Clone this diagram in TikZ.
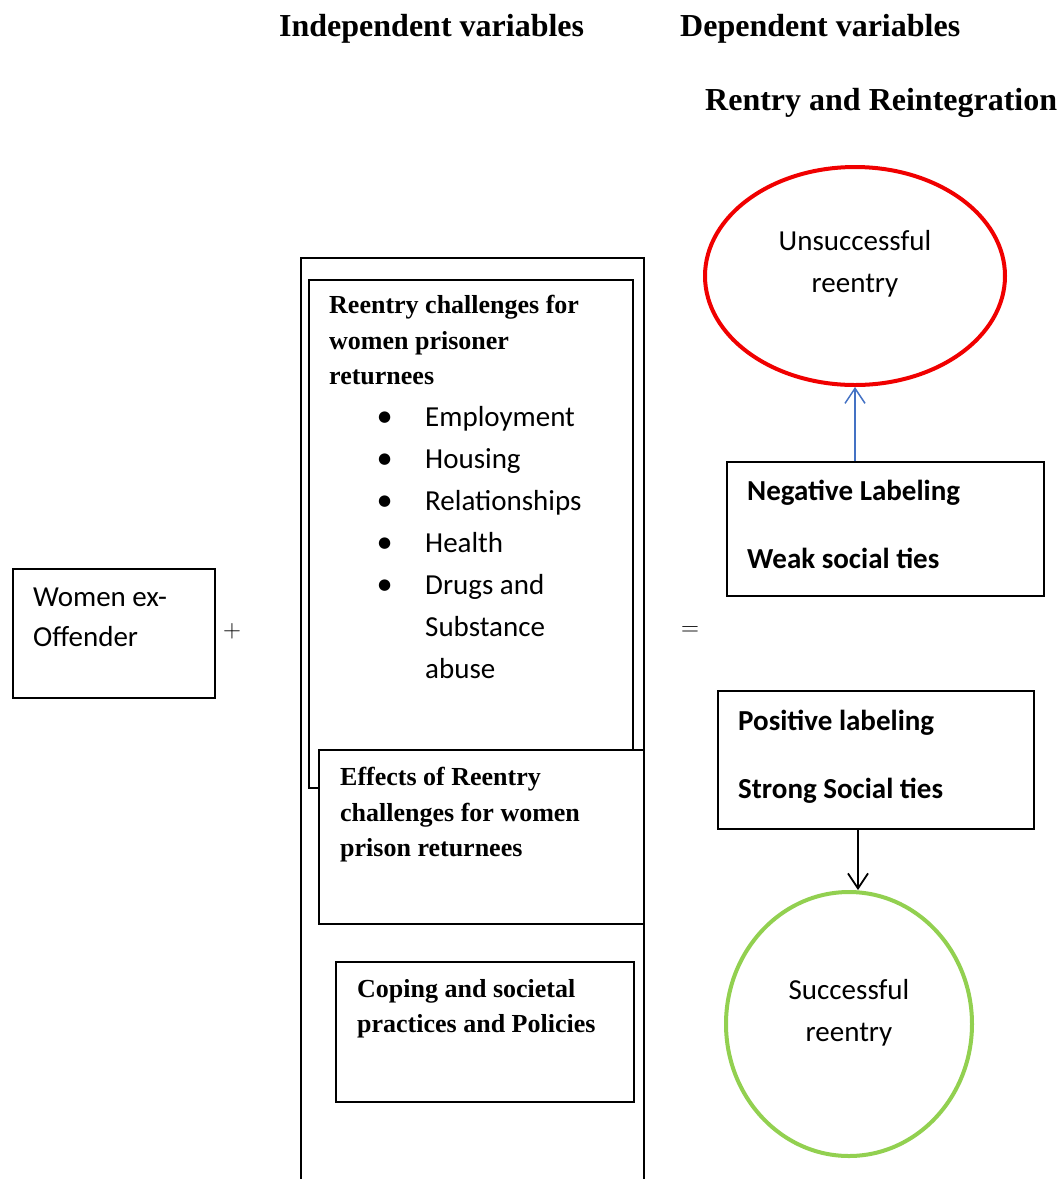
\documentclass[tikz,border=0pt]{standalone}
\usepackage{fontspec}
\setmainfont{Liberation Serif}
\newfontfamily\calibri{Carlito}
\newfontfamily\dejavu{DejaVu Sans}
\usepackage{tikz}
\usetikzlibrary{positioning}
\usetikzlibrary{shapes.geometric}
\usetikzlibrary{arrows.meta}

\definecolor{lblue}{RGB}{68,114,196}
\definecolor{lred}{RGB}{240,0,0}
\definecolor{lgreen}{RGB}{146,208,80}

\newcommand{\dotitem}{\makebox[47pt][l]{\raisebox{5pt}{\dejavu\fontsize{15}{20}\selectfont ●}}}

\begin{document}
\begin{tikzpicture}[x=1pt, y=-1pt,
    box/.style={draw, line width=1.6pt, fill=white, anchor=north west, inner sep=0pt},
    head/.style={font=\fontsize{32}{38}\selectfont\bfseries, anchor=west, inner sep=0pt},
    title/.style={font=\fontsize{26}{35.5}\selectfont\bfseries, align=left, anchor=north west, inner sep=0pt},
    body/.style={font=\calibri\fontsize{29}{42}\selectfont, align=left, inner sep=0pt},
    bodybf/.style={font=\calibri\fontsize{29}{68}\selectfont\bfseries, align=left, anchor=north west, inner sep=0pt},
    oval/.style={ellipse, draw, line width=4pt, inner sep=0pt},
    barb/.style={-{Straight Barb[length=15pt, width=20pt]}}
]
\useasboundingbox (0,0) rectangle (1057,1179);

\node[head] (indep) at (279,29) {Independent variables};
\node[head] (dep) at (680,29) {Dependent variables};
\node[head] (rentry) at (705,103) {Rentry and Reintegration};

\node[box, minimum width=202pt, minimum height=129pt] (woman) at (12,568) {};
\node[body, font=\calibri\fontsize{29}{40}\selectfont, anchor=north west] (womantxt) at (33,588) {Women ex-\\Offender};
\node[font=\fontsize{26}{30}\selectfont, inner sep=0pt] (plus) at (232,631) {$+$};

\node[box, fill=none, minimum width=343pt, minimum height=950pt] (outer) at (300,257) {};
\node[box, minimum width=324pt, minimum height=508pt] (challenges) at (308,279) {};
\node[title] (challengestxt) at (329,295) {Reentry challenges for\\women prisoner\\returnees};
\node[body, anchor=north west] (items) at (378,406) {%
    \dotitem Employment\\
    \dotitem Housing\\
    \dotitem Relationships\\
    \dotitem Health\\
    \dotitem Drugs and\\
    \hspace*{47pt}Substance\\
    \hspace*{47pt}abuse};
\node[box, minimum width=325pt, minimum height=174pt] (effects) at (318,749) {};
\node[title] (effectstxt) at (340,767) {Effects of Reentry\\challenges for women\\prison returnees};
\node[box, minimum width=298pt, minimum height=140pt] (coping) at (335,961) {};
\node[title] (copingtxt) at (357,979) {Coping and societal\\practices and Policies};

\node[font=\fontsize{26}{30}\selectfont, inner sep=0pt] (equals) at (690,631) {$=$};

\node[oval, draw=lred, minimum width=300pt, minimum height=218pt] (unsucc) at (855,276) {};
\node[body, align=center, anchor=north] (unsucctxt) at (855,230) {Unsuccessful\\reentry};
\node[box, minimum width=317pt, minimum height=134pt] (neg) at (726,461) {};
\node[bodybf] (negtxt) at (747,480) {Negative Labeling\\Weak social ties};

\node[box, minimum width=316pt, minimum height=138pt] (pos) at (717,690) {};
\node[bodybf] (postxt) at (738,710) {Positive labeling\\Strong Social ties};
\node[oval, draw=lgreen, minimum width=246pt, minimum height=264pt] (succ) at (849,1024) {};
\node[body, align=center, anchor=north] (succtxt) at (849,979) {Successful\\reentry};

\draw[barb, lblue, line width=1.5pt] (unsucc.south |- neg.north) -- (unsucc.south);
\draw[barb, line width=1.8pt] ([xshift=9pt]succ.north |- pos.south) -- ([xshift=9pt]succ.north);
\end{tikzpicture}
\end{document}
